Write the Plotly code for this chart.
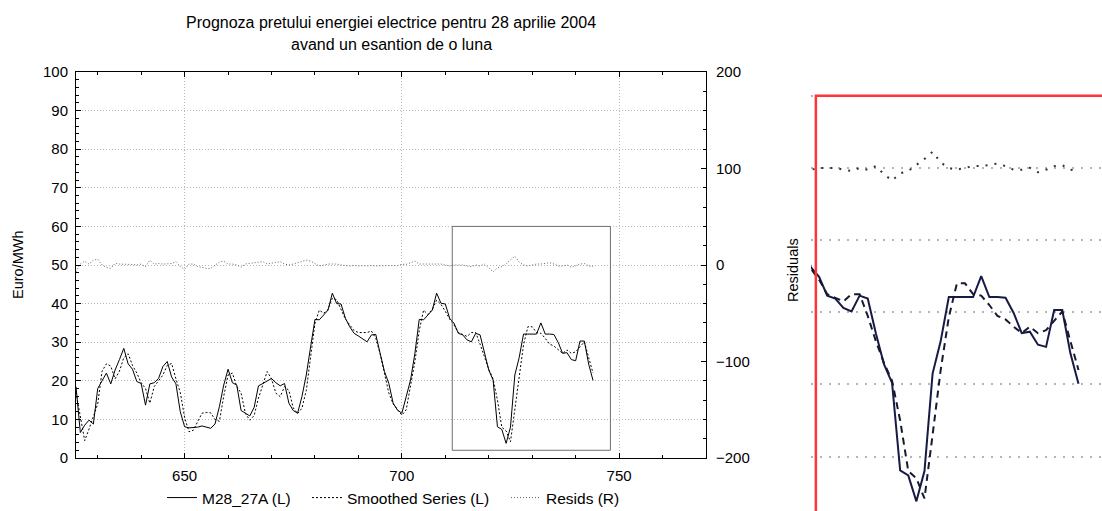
import plotly.graph_objects as go

# Hour index of the sample
hours = list(range(625, 745))

# Observed price series M28_27A (Euro/MWh)
m28_27a = [
    18.5, 6.6, 8.5, 9.8, 8.8, 18.0, 20.0, 22.0, 19.2, 22.8,
    25.5, 28.4, 24.4, 23.0, 19.8, 19.3, 13.7, 19.2, 19.5, 20.6,
    23.7, 25.0, 21.0, 19.2, 12.0, 8.1, 7.8, 7.9, 8.0, 8.3,
    8.0, 7.7, 8.8, 13.3, 18.9, 23.0, 19.5, 18.9, 12.3, 11.7,
    10.9, 13.1, 18.7, 19.3, 20.0, 20.6, 19.5, 18.7, 19.3, 14.2,
    12.3, 11.6, 15.9, 21.5, 28.8, 35.9, 35.8, 37.0, 38.3, 42.7,
    40.0, 39.9, 36.2, 34.0, 32.3, 31.6, 30.8, 30.1, 31.9, 32.0,
    27.1, 22.4, 19.3, 14.2, 12.4, 11.6, 15.9, 20.2, 27.1, 35.9,
    35.8, 37.0, 38.3, 42.7, 40.1, 39.9, 36.2, 34.9, 32.3, 31.9,
    30.6, 30.1, 32.3, 31.9, 27.1, 22.8, 20.2, 8.1, 7.4, 3.8,
    8.0, 21.5, 26.0, 32.1, 32.1, 32.1, 32.1, 35.0, 32.1, 32.1,
    32.0, 29.9, 27.1, 27.3, 25.5, 25.2, 30.3, 30.3, 24.3, 20.1,
]

# Smoothed series (Euro/MWh)
smoothed = [
    17.0, 11.0, 4.5, 7.5, 11.0, 14.0, 22.5, 24.4, 23.8, 20.5,
    22.5, 26.0, 27.0, 24.0, 22.0, 19.5, 18.0, 14.2, 18.5, 20.0,
    21.5, 24.0, 24.5, 20.5, 17.0, 10.5, 6.8, 7.2, 9.5, 11.6,
    11.8, 11.7, 10.0, 9.5, 16.0, 21.5, 22.0, 18.5, 16.8, 11.5,
    9.8, 11.0, 15.5, 19.0, 22.4, 20.5, 16.8, 15.9, 18.5, 17.5,
    13.0, 11.5, 12.9, 17.5, 25.5, 34.9, 38.3, 37.5, 38.5, 41.4,
    41.0, 38.5, 36.0, 34.5, 33.0, 32.5, 32.5, 32.5, 32.9, 31.0,
    27.0, 22.0, 16.8, 14.0, 12.5, 11.1, 12.5, 18.5, 25.0, 33.0,
    38.3, 37.2, 38.5, 40.9, 39.8, 38.0, 36.0, 34.5, 32.5, 32.0,
    31.5, 32.5, 32.5, 29.5, 26.0, 23.0, 20.5, 15.0, 8.0, 7.0,
    4.2, 13.0, 22.0, 29.3, 34.0, 34.0, 32.5, 32.3, 31.0, 29.5,
    29.0, 28.0, 27.1, 28.0, 27.1, 27.5, 28.8, 30.1, 26.0, 22.0,
]

# Residuals (right axis)
resids = [
    -7.0, 1.0, 4.0, 1.0, 5.0, 6.0, 0.0, -2.4, -3.5, 1.7,
    1.0, 1.0, 1.0, 0.5, 0.0, 1.0, -1.7, 5.0, 1.0, 1.5,
    1.0, 1.0, 1.5, 3.5, -1.7, -4.5, 1.0, 1.0, -1.7, -2.4,
    -3.5, -3.5, 0.0, 3.0, 4.0, 1.0, 1.0, 0.0, -2.4, 1.0,
    1.7, 2.4, 3.5, 3.5, 1.0, 1.7, 2.8, 3.5, 1.0, 0.0,
    1.0, 2.4, 3.5, 5.0, 4.0, 1.7, -1.0, 0.0, 1.0, 1.0,
    1.0, 0.0, -0.7, -1.0, -0.5, -1.0, -0.7, -1.0, -0.5, -1.0,
    -0.7, -1.0, -0.7, -0.5, -0.7, 0.7, 0.7, 2.4, 4.0, 1.0,
    1.0, 1.7, 1.7, 1.0, 1.0, 0.0, -1.0, 0.0, 0.0, 0.0,
    -1.0, -1.7, 0.0, -1.0, 1.0, -3.5, -7.0, -3.0, -1.7, 1.5,
    5.0, 9.0, 3.0, 0.0, -1.0, 0.0, 1.0, 1.0, 1.7, 2.4,
    1.0, -1.0, -1.0, 0.0, -2.4, -1.0, 1.0, 1.5, -1.0, -1.7,
]

# Highlighted window [x0, x1, y0, y1]
window = [711.6, 748.0, 2.0, 60.0]

x_ticks = [650, 700, 750]
left_ticks = [0, 10, 20, 30, 40, 50, 60, 70, 80, 90, 100]
right_ticks = [-200, -100, 0, 100, 200]

W, H = 1102, 511
FONT = "Arial, Liberation Sans, sans-serif"


def px_x(p):
    return p / W


def px_y(p):
    return 1 - p / H


fig = go.Figure()

# --- main chart -----------------------------------------------------------
fig.add_trace(go.Scatter(
    x=hours, y=m28_27a, mode="lines", name="M28_27A (L)",
    line=dict(color="black", width=1), legend="legend",
))
fig.add_trace(go.Scatter(
    x=hours, y=smoothed, mode="lines", name="Smoothed Series (L)",
    line=dict(color="black", width=1, dash="2px,2px"), legend="legend2",
))
fig.add_trace(go.Scatter(
    x=hours, y=resids, mode="lines", name="Resids (R)", yaxis="y2",
    line=dict(color="#666666", width=1, dash="1px,2px"), legend="legend3",
))

# --- magnified view of the window -----------------------------------------
fig.add_trace(go.Scatter(
    x=hours, y=m28_27a, mode="lines", xaxis="x3", yaxis="y3", showlegend=False,
    line=dict(color="#161a45", width=2),
))
fig.add_trace(go.Scatter(
    x=hours, y=smoothed, mode="lines", xaxis="x3", yaxis="y3", showlegend=False,
    line=dict(color="#161a30", width=2, dash="7px,5px"),
))
fig.add_trace(go.Scatter(
    x=hours, y=resids, mode="lines", xaxis="x3", yaxis="y4", showlegend=False,
    line=dict(color="#333333", width=2, dash="2px,7px"),
))

grid = dict(showgrid=True, gridcolor="#b8b8b8", gridwidth=1, griddash="1px,2px")
tickfont = dict(family=FONT, size=15, color="black")
legfont = dict(family=FONT, size=15.5, color="black")

fig.update_layout(
    width=W, height=H,
    margin=dict(l=0, r=0, t=0, b=0, autoexpand=False),
    paper_bgcolor="white", plot_bgcolor="rgba(0,0,0,0)",
    font=dict(family=FONT, size=15, color="black"),
    xaxis=dict(
        domain=[px_x(76), px_x(706)], range=[625, 770],
        tickvals=x_ticks, ticks="inside", ticklen=5, tickcolor="black",
        minor=dict(dtick=10, tick0=0, ticks="inside", ticklen=3, tickcolor="black"),
        showline=True, linecolor="black", linewidth=1, mirror="ticks",
        zeroline=False, tickfont=tickfont, ticklabelstandoff=4, **grid,
    ),
    yaxis=dict(
        domain=[1 - 458 / H, 1 - 72 / H], range=[0, 100],
        tickvals=left_ticks, ticks="inside", ticklen=5, tickcolor="black",
        minor=dict(dtick=2, ticks="inside", ticklen=3, tickcolor="black"),
        showline=True, linecolor="black", linewidth=1, mirror=True,
        zeroline=False, tickfont=tickfont, ticklabelstandoff=4, **grid,
    ),
    yaxis2=dict(
        overlaying="y", side="right", anchor="x", range=[-200, 200],
        tickvals=right_ticks, ticks="inside", ticklen=5, tickcolor="black",
        minor=dict(dtick=20, ticks="inside", ticklen=3, tickcolor="black"),
        showline=True, linecolor="black", linewidth=1,
        showgrid=False, zeroline=False, tickfont=tickfont, ticklabelstandoff=6,
    ),
    xaxis3=dict(
        domain=[px_x(811), 1.0], range=[711.0, 746.9], anchor="y3",
        showgrid=False, zeroline=False, showticklabels=False, ticks="",
        showline=False,
    ),
    yaxis3=dict(
        domain=[0.0, px_y(90)], range=[2.46, 60.79], anchor="x3",
        dtick=10, showgrid=True, gridcolor="#b4b4b4", gridwidth=2,
        griddash="2px,7px", zeroline=False, showticklabels=False, ticks="",
        showline=False,
    ),
    yaxis4=dict(
        overlaying="y3", anchor="x3", side="right", range=[-190.2, 43.2],
        showgrid=False, zeroline=False, showticklabels=False, ticks="",
        showline=False,
    ),
    legend=dict(orientation="h", x=px_x(162), y=px_y(498), xanchor="left",
                yanchor="middle", font=legfont, bgcolor="rgba(0,0,0,0)"),
    legend2=dict(orientation="h", x=px_x(307), y=px_y(498), xanchor="left",
                 yanchor="middle", font=legfont, bgcolor="rgba(0,0,0,0)"),
    legend3=dict(orientation="h", x=px_x(506), y=px_y(498), xanchor="left",
                 yanchor="middle", font=legfont, bgcolor="rgba(0,0,0,0)"),
    showlegend=True,
)

# Outline of the highlighted window in the main chart
fig.add_shape(type="rect", xref="x", yref="y",
              x0=window[0], x1=window[1], y0=window[2], y1=window[3],
              line=dict(color="#6e6e6e", width=1))
# Same window drawn in red on the magnified view
fig.add_shape(type="rect", xref="x3", yref="y3",
              x0=window[0], x1=window[1], y0=window[2], y1=window[3],
              line=dict(color="#ff3636", width=2.5))

# Titles
ann = dict(xref="paper", yref="paper", showarrow=False,
           xanchor="center", yanchor="middle")
fig.add_annotation(text="Prognoza pretului energiei electrice pentru 28 aprilie 2004",
                   x=px_x(391), y=px_y(22), font=dict(family=FONT, size=16), **ann)
fig.add_annotation(text="avand un esantion de o luna",
                   x=px_x(391), y=px_y(45), font=dict(family=FONT, size=16), **ann)
fig.add_annotation(text="Euro/MWh", textangle=-90,
                   x=px_x(18), y=px_y(265), font=dict(family=FONT, size=14.5), **ann)
fig.add_annotation(text="Residuals", textangle=-90,
                   x=px_x(793), y=px_y(270), font=dict(family=FONT, size=14.5), **ann)

fig.write_html("out.html")
